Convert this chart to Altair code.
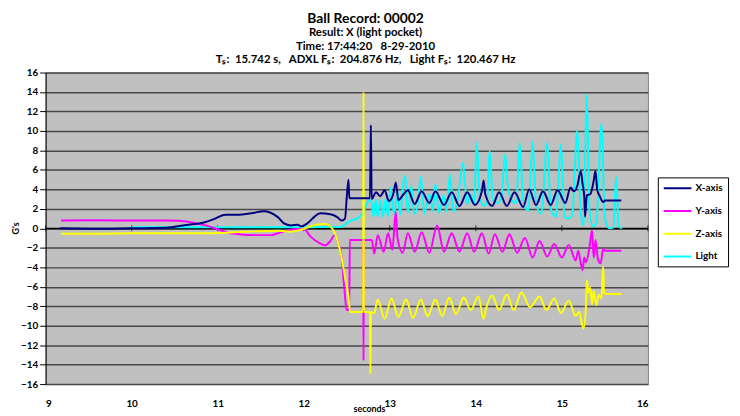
import altair as alt
import pandas as pd

series_names = ["X-axis", "Y-axis", "Z-axis", "Light"]
series_colors = ["#000080", "#FF00FF", "#FFFF00", "#00FFFF"]
x_ticks = [9, 10, 11, 12, 13, 14, 15, 16]
y_ticks = [-16, -14, -12, -10, -8, -6, -4, -2, 0, 2, 4, 6, 8, 10, 12, 14, 16]

title_text = "Ball Record: 00002"
subtitle_lines = [
    "Result: X (light pocket)",
    "Time: 17:44:20\u00a0\u00a0 8-29-2010",
    "\u00a0" * 12 + "Tₛ:\u00a0 15.742 s,\u00a0\u00a0 ADXL Fₛ:\u00a0 204.876 Hz,\u00a0\u00a0 Light Fₛ:\u00a0 120.467 Hz",
]

# (seconds, G's)
x_axis_pts = [
    (9.17, 0.0), (9.6, -0.05), (10.0, 0.0), (10.4, 0.05), (10.6, 0.3), (10.86, 0.65),
    (10.97, 1.0), (11.09, 1.4), (11.24, 1.4), (11.39, 1.55), (11.54, 1.75), (11.60, 1.65),
    (11.70, 1.15), (11.77, 0.5), (11.85, 0.3), (11.93, 0.37), (11.97, 0.2), (12.04, 0.5),
    (12.12, 1.15), (12.19, 1.55), (12.31, 1.45), (12.39, 1.15), (12.44, 0.8), (12.48, 1.0),
    (12.50, 3.2), (12.52, 5.0), (12.53, 3.1), (12.77, 3.1), (12.78, 10.6), (12.79, 3.0),
    (12.84, 3.7), (12.89, 3.3), (12.94, 3.9), (12.99, 2.8), (13.04, 3.5), (13.07, 4.7),
    (13.10, 2.9), (13.16, 3.5), (13.21, 3.9), (13.29, 2.5), (13.37, 3.8), (13.46, 2.6),
    (13.53, 3.8), (13.63, 2.4), (13.72, 3.7), (13.81, 2.3), (13.90, 3.7), (13.99, 2.4),
    (14.07, 3.8), (14.09, 4.9), (14.11, 3.5), (14.19, 2.3), (14.27, 3.7), (14.36, 2.3),
    (14.45, 3.7), (14.55, 2.2), (14.62, 4.0), (14.70, 2.4), (14.78, 3.8), (14.87, 2.4),
    (14.95, 3.9), (15.04, 2.6), (15.10, 4.2), (15.14, 3.8), (15.18, 4.4), (15.22, 5.9),
    (15.24, 4.6), (15.26, 3.3), (15.27, 1.2), (15.29, 3.4), (15.33, 3.5), (15.37, 4.9),
    (15.39, 5.9), (15.41, 4.0), (15.44, 3.3), (15.48, 2.7), (15.50, 2.85), (15.69, 2.85),
]

y_axis_pts = [
    (9.18, 0.8), (9.6, 0.82), (10.0, 0.8), (10.4, 0.8), (10.55, 0.78), (10.7, 0.6),
    (10.86, 0.3), (11.0, -0.1), (11.12, -0.45), (11.24, -0.6), (11.47, -0.7), (11.62, -0.7),
    (11.70, -0.5), (11.85, -0.15), (12.0, -0.05), (12.08, -0.85), (12.19, -1.55), (12.25, -1.75),
    (12.31, -1.3), (12.36, -0.7), (12.40, -1.5), (12.44, -3.0), (12.47, -6.0), (12.50, -8.4),
    (12.53, -8.4), (12.535, -1.2), (12.69, -1.2), (12.695, -13.6), (12.70, -1.2), (12.79, -1.2),
    (12.82, -2.6), (12.86, -0.7), (12.93, -2.4), (12.98, -0.5), (13.03, -2.2), (13.07, 1.7),
    (13.09, -1.0), (13.15, -2.5), (13.21, -0.5), (13.29, -2.4), (13.37, -0.4), (13.46, -2.5),
    (13.55, 0.3), (13.63, -2.4), (13.72, -0.5), (13.81, -2.4), (13.90, -0.5), (13.98, -2.4),
    (14.07, -0.5), (14.15, -2.6), (14.22, -0.6), (14.31, -2.4), (14.39, -0.6), (14.48, -2.5),
    (14.57, -1.0), (14.66, -3.0), (14.74, -1.3), (14.83, -2.9), (14.91, -1.6), (15.00, -3.0),
    (15.08, -1.7), (15.16, -3.3), (15.19, -2.3), (15.22, -3.6), (15.24, -4.3), (15.26, -3.0),
    (15.28, -3.5), (15.32, -2.0), (15.35, -0.2), (15.37, -3.0), (15.39, -1.2), (15.42, -3.2),
    (15.45, -3.6), (15.48, -2.1), (15.50, -2.3), (15.69, -2.3),
]

z_axis_pts = [
    (9.18, -0.55), (9.6, -0.55), (10.0, -0.5), (10.5, -0.5), (10.9, -0.5), (11.1, -0.45),
    (11.3, -0.35), (11.5, -0.3), (11.7, -0.25), (11.85, -0.35), (11.95, -0.2), (12.05, 0.1),
    (12.16, 0.4), (12.25, 0.45), (12.31, 0.2), (12.36, -0.5), (12.42, -2.2), (12.48, -5.0),
    (12.52, -7.0), (12.54, -8.6), (12.69, -8.6), (12.695, 14.0), (12.70, -8.6), (12.77, -8.6),
    (12.775, -14.9), (12.78, -8.6), (12.82, -8.7), (12.86, -7.3), (12.94, -9.3), (13.02, -7.2),
    (13.10, -9.1), (13.19, -7.3), (13.27, -9.2), (13.36, -7.3), (13.44, -9.0), (13.53, -7.3),
    (13.61, -9.0), (13.69, -7.1), (13.77, -8.8), (13.86, -7.1), (13.94, -8.4), (14.03, -7.0),
    (14.09, -9.3), (14.12, -8.2), (14.19, -6.9), (14.27, -8.4), (14.36, -6.8), (14.44, -8.4),
    (14.53, -6.6), (14.63, -8.1), (14.74, -7.0), (14.82, -8.4), (14.91, -7.2), (14.99, -8.7),
    (15.08, -7.4), (15.16, -9.0), (15.20, -8.6), (15.25, -10.3), (15.28, -8.0), (15.29, -5.3),
    (15.31, -6.6), (15.33, -6.1), (15.35, -7.8), (15.37, -6.4), (15.40, -7.9), (15.43, -6.8),
    (15.46, -7.2), (15.48, -3.9), (15.49, -6.6), (15.51, -6.75), (15.69, -6.75),
]

light_pts = [
    (10.0, 0.1), (10.5, 0.1), (11.0, 0.1), (11.5, 0.1), (12.0, 0.1), (12.35, 0.15),
    (12.42, 0.13), (12.48, 0.4), (12.55, 0.8), (12.62, 1.0), (12.68, 1.5), (12.72, 2.2),
    (12.76, 2.9), (12.79, 2.7), (12.81, 1.2), (12.84, 2.9), (12.86, 1.2), (12.89, 2.9),
    (12.92, 1.2), (12.95, 3.0), (12.98, 1.2), (13.01, 4.2), (13.05, 1.4), (13.09, 3.8),
    (13.12, 1.4), (13.16, 4.9), (13.18, 5.4), (13.21, 1.6), (13.25, 4.4), (13.28, 1.5),
    (13.32, 2.2), (13.36, 5.3), (13.40, 1.5), (13.46, 3.5), (13.50, 1.8), (13.53, 4.6),
    (13.57, 1.6), (13.63, 3.4), (13.66, 1.7), (13.70, 5.5), (13.74, 1.7), (13.79, 3.0),
    (13.85, 6.7), (13.90, 2.5), (13.94, 3.5), (13.98, 2.4), (14.01, 8.8), (14.05, 2.9),
    (14.10, 2.3), (14.13, 2.7), (14.16, 8.0), (14.20, 2.9), (14.26, 2.6), (14.30, 3.5),
    (14.34, 7.6), (14.37, 4.5), (14.42, 2.8), (14.47, 2.6), (14.51, 8.8), (14.55, 2.9),
    (14.61, 1.8), (14.66, 8.9), (14.70, 2.5), (14.76, 1.5), (14.83, 8.8), (14.87, 2.0),
    (14.93, 1.2), (14.99, 8.6), (15.03, 1.2), (15.08, 1.0), (15.12, 1.4), (15.18, 10.1),
    (15.22, 1.5), (15.25, 0.3), (15.29, 13.7), (15.32, 2.0), (15.36, 0.2), (15.40, 0.5),
    (15.46, 10.8), (15.50, 1.0), (15.55, 0.0), (15.60, 0.1), (15.63, 5.3), (15.66, 0.2),
    (15.70, 0.0),
]

rows = []
for name, pts in zip(series_names, [x_axis_pts, y_axis_pts, z_axis_pts, light_pts]):
    for i, (t, g) in enumerate(pts):
        rows.append({"series": name, "t": t, "g": g, "i": i})
df = pd.DataFrame(rows)

tick_df = pd.DataFrame({"t": x_ticks, "g": [0] * len(x_ticks)})
zero_df = pd.DataFrame({"g": [0]})

FONT = "Lato"

x_enc = alt.X(
    "t:Q",
    scale=alt.Scale(domain=[9, 16], nice=False, zero=False),
    axis=alt.Axis(
        values=x_ticks, format="d", title="seconds", grid=False, ticks=False, domain=False,
        labelFont=FONT, labelFontSize=10, labelFontWeight="bold", labelColor="black",
        labelPadding=15, titleFont=FONT, titleFontSize=9, titleFontWeight="bold",
        titleColor="black", titleX=327, titleY=25, titleBaseline="middle",
    ),
)
y_enc = alt.Y(
    "g:Q",
    scale=alt.Scale(domain=[-16, 16], nice=False),
    axis=alt.Axis(
        values=y_ticks, format="d", title="G's", grid=True, gridColor="#474747",
        gridWidth=1.5, domainColor="black", tickColor="black", tickSize=6,
        labelFont=FONT, labelFontSize=10, labelFontWeight="bold", labelColor="black",
        labelPadding=2, titleFont=FONT, titleFontSize=9, titleFontWeight="bold",
        titleColor="black", titleX=-30, titleY=157, titleAngle=270,
        titleAlign="center", titleBaseline="middle",
    ),
)
color_enc = alt.Color(
    "series:N",
    scale=alt.Scale(domain=series_names, range=series_colors),
    legend=alt.Legend(
        title=None, orient="none", legendX=619, legendY=106, direction="vertical",
        symbolType="M-1,0H4.6", symbolSize=100, symbolStrokeWidth=2,
        labelFont=FONT, labelFontSize=10, labelFontWeight="bold", labelColor="black",
        labelOffset=21, fillColor="white", strokeColor="black", padding=5,
        rowPadding=12, cornerRadius=0,
    ),
)

zero_line = alt.Chart(zero_df).mark_rule(color="black", strokeWidth=1.2).encode(y=y_enc)
zero_ticks = alt.Chart(tick_df).mark_tick(
    orient="vertical", size=6, thickness=1, color="black"
).encode(x=x_enc, y=y_enc)


def series_layer(name):
    return (
        alt.Chart(df)
        .transform_filter(alt.datum.series == name)
        .mark_line(strokeWidth=2, interpolate="monotone")
        .encode(x=x_enc, y=y_enc, color=color_enc, order="i:Q")
    )


chart = (
    alt.layer(
        zero_line,
        zero_ticks,
        series_layer("Light"),
        series_layer("Y-axis"),
        series_layer("Z-axis"),
        series_layer("X-axis"),
    )
    .properties(
        width=609,
        height=315,
        autosize=alt.AutoSizeParams(type="none"),
        padding={"left": 38, "top": 63, "right": 85, "bottom": 30},
        background="white",
        title=alt.TitleParams(
            text=title_text, subtitle=subtitle_lines, font=FONT, fontSize=14,
            fontWeight="bold", color="black", subtitleFont=FONT, subtitleFontSize=11.5,
            subtitleFontWeight="bold", subtitleColor="black", subtitleLineHeight=13.5,
            subtitlePadding=2, anchor="middle", dx=19, offset=2,
        ),
    )
    .configure_view(fill="#C0C0C0", stroke="#858585", strokeWidth=1)
)

chart.save("out.html", embed_options={"renderer": "svg", "actions": False})
